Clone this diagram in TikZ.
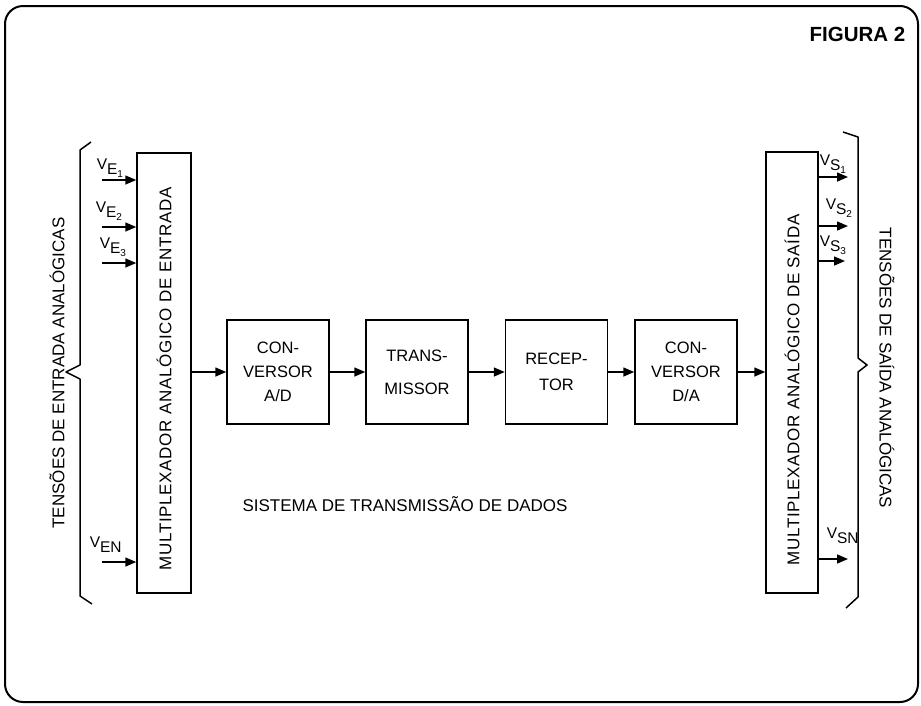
\documentclass[tikz,border=0pt]{standalone}
\usepackage{fontspec}
\setmainfont{Liberation Sans}
\newfontfamily\spacedfont[LetterSpace=4]{Liberation Sans}
\usetikzlibrary{arrows.meta}
\newcommand{\vsig}[2]{V\raisebox{-5pt}{#1\raisebox{-3pt}{\fontsize{10}{10}\selectfont #2}}}
\begin{document}
\begin{tikzpicture}[x=1pt,y=-1pt,
  line width=1.5pt,
  arr/.style={-{Triangle[length=11pt,width=9pt]}, line width=1.5pt},
  blk/.style={draw, line width=1.5pt, minimum width=102pt, minimum height=104pt, inner sep=0pt, align=center},
  muxbox/.style={draw, line width=1.5pt, inner sep=0pt},
  blktext/.style={font=\fontsize{16.5}{24}\selectfont},
  lbl/.style={font=\fontsize{17}{20}\selectfont, inner sep=0pt},
  muxtext/.style={font=\spacedfont\fontsize{17}{20}\selectfont, inner sep=0pt},
  sig/.style={font=\fontsize{15.5}{16}\selectfont, anchor=base west, inner sep=0pt},
  bracestyle/.style={line width=1.5pt, line join=round}
]
\useasboundingbox (0,0) rectangle (921,705);
\draw[line width=2pt, rounded corners=18pt] (5,6) rectangle (918,702);

\node[font=\bfseries\fontsize{20.5}{22}\selectfont, anchor=base east, inner sep=0pt] (fig) at (906,41) {FIGURA 2};

% left brace and label
\draw[bracestyle] (91,142) -- (80,150) -- (80,365) -- (66,372) -- (80,379) -- (80,596) -- (92,604);
\node[lbl, rotate=90] (inlbl) at (57,373) {TENSÕES DE ENTRADA ANALÓGICAS};

% input multiplexer
\node[muxbox, minimum width=54pt, minimum height=440pt] (muxin) at (164,373) {};
\node[muxtext, rotate=90] (muxintxt) at (164,379) {MULTIPLEXADOR ANALÓGICO DE ENTRADA};

% input signals
\coordinate (ve1) at (102,180);
\coordinate (ve2) at (102,227);
\coordinate (ve3) at (102,263);
\coordinate (ven) at (102,562);
\draw[arr] (ve1) -- (ve1 -| muxin.west);
\draw[arr] (ve2) -- (ve2 -| muxin.west);
\draw[arr] (ve3) -- (ve3 -| muxin.west);
\draw[arr] (ven) -- (ven -| muxin.west);
\node[sig] (lve1) at (96,169) {\vsig{E}{1}};
\node[sig] (lve2) at (95,212) {\vsig{E}{2}};
\node[sig] (lve3) at (99,248) {\vsig{E}{3}};
\node[sig] (lven) at (89,547) {V\raisebox{-5pt}{EN}};

% chain blocks
\node[blk, blktext] (ad) at (278,372) {CON-\\VERSOR\\A/D};
\node[blk, blktext] (tx) at (417,372) {TRANS-\\[9pt]MISSOR};
\node[blk, blktext] (rx) at (556.5,372) {RECEP-\\[2pt]TOR};
\node[blk, blktext] (da) at (686,372) {CON-\\VERSOR\\D/A};

% output multiplexer
\node[muxbox, minimum width=52pt, minimum height=441pt] (muxout) at (792,372.5) {};
\node[muxtext, rotate=90] (muxouttxt) at (792,390) {MULTIPLEXADOR ANALÓGICO DE SAÍDA};

\draw[arr] (muxin.east |- ad.west) -- (ad.west);
\draw[arr] (ad.east) -- (tx.west);
\draw[arr] (tx.east) -- (rx.west);
\draw[arr] (rx.east) -- (da.west);
\draw[arr] (da.east) -- (da.east -| muxout.west);

% output signals
\coordinate (vs1) at (848,177);
\coordinate (vs2) at (848,226);
\coordinate (vs3) at (845,261);
\coordinate (vsn) at (848,559);
\draw[arr] (vs1 -| muxout.east) -- (vs1);
\draw[arr] (vs2 -| muxout.east) -- (vs2);
\draw[arr] (vs3 -| muxout.east) -- (vs3);
\draw[arr] (vsn -| muxout.east) -- (vsn);
\node[sig] (lvs1) at (819,165) {\vsig{S}{1}};
\node[sig] (lvs2) at (825,209) {\vsig{S}{2}};
\node[sig] (lvs3) at (819,246) {\vsig{S}{3}};
\node[sig] (lvsn) at (826,538) {V\raisebox{-5pt}{SN}};

% right brace and label
\draw[bracestyle] (843,132) -- (858,137) -- (858,358) -- (867,365) -- (858,372) -- (858,597) -- (846,608);
\node[lbl, rotate=-90] (outlbl) at (887,368) {TENSÕES DE SAÍDA ANALÓGICAS};

\node[lbl] (sist) at (405,504) {SISTEMA DE TRANSMISSÃO DE DADOS};
\end{tikzpicture}
\end{document}
